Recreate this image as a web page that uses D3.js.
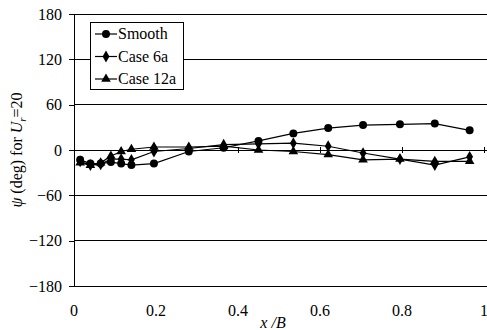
<!DOCTYPE html>
<html>
<head>
<meta charset="utf-8">
<script src="https://cdn.jsdelivr.net/npm/d3@7"></script>
<style>
  body { margin: 0; background: #fff; }
  svg { display: block; }
</style>
</head>
<body>
<div id="chart"></div>
<script>
// x/B positions of the measurement stations
const xPos = [0.015, 0.04, 0.065, 0.09, 0.115, 0.14, 0.195, 0.28, 0.365, 0.45, 0.535, 0.62, 0.705, 0.795, 0.88, 0.965];
const smooth = [-13, -18, -18, -16, -18, -20, -18, -2, 3, 12, 22, 29, 33, 34, 35, 26];
const case6a = [-15, -20, -19, -12, -12, -13, -2, 2, 7, 8, 9, 5, -4, -12, -20, -9];
const case12a = [-17, -20, -17, -8, -2, 1, 4, 4, 5, 0, -2, -6, -13, -12, -15, -15];
const yTicks = [-180, -120, -60, 0, 60, 120, 180];
const xTicks = [0, 0.2, 0.4, 0.6, 0.8, 1];

const series = [
  { label: 'Smooth', values: smooth, symbol: d3.symbolCircle, size: 50 },
  { label: 'Case 6a', values: case6a, symbol: d3.symbolDiamond, size: 40 },
  { label: 'Case 12a', values: case12a, symbol: d3.symbolTriangle, size: 40 }
];

const width = 487, height = 330;
const fontSize = 16;
const serif = "'Liberation Serif', serif";
const svg = d3.select('#chart').append('svg')
  .attr('width', width).attr('height', height)
  .style('font-family', serif);

const x = d3.scaleLinear().domain([0, 1]).range([74, 484]);
const y = d3.scaleLinear().domain([-180, 180]).range([286, 14]);

// horizontal gridlines
svg.append('g')
  .selectAll('line')
  .data(yTicks)
  .join('line')
  .attr('x1', x(0)).attr('x2', width + 5)
  .attr('y1', d => y(d)).attr('y2', d => y(d))
  .attr('stroke', '#000').attr('stroke-width', 1)
  .attr('shape-rendering', 'crispEdges');

// y axis
const yAxis = svg.append('g')
  .attr('transform', `translate(${x(0)},0)`)
  .call(d3.axisLeft(y).tickValues(yTicks).tickSize(5).tickPadding(7));
yAxis.attr('font-family', null).attr('font-size', null);
yAxis.selectAll('path, line').attr('stroke', '#000').attr('shape-rendering', 'crispEdges');
yAxis.selectAll('text')
  .style('font-family', serif)
  .attr('font-size', fontSize).attr('fill', '#000');

// x axis line sits on y=0, labels at the bottom
svg.append('g')
  .selectAll('line')
  .data(xTicks.slice(1))
  .join('line')
  .attr('x1', d => x(d)).attr('x2', d => x(d))
  .attr('y1', y(0) - 3).attr('y2', y(0) + 3)
  .attr('stroke', '#000')
  .attr('shape-rendering', 'crispEdges');

svg.append('g')
  .selectAll('text')
  .data(xTicks)
  .join('text')
  .attr('x', d => x(d))
  .attr('y', 316)
  .attr('text-anchor', 'middle')
  .style('font-family', serif)
  .attr('font-size', fontSize)
  .text(d => d3.format('~g')(d));

// axis titles
svg.append('text')
  .attr('x', 273).attr('y', 328)
  .attr('text-anchor', 'middle')
  .style('font-family', serif)
  .attr('font-size', fontSize)
  .attr('font-style', 'italic')
  .text('x /B');

const yTitle = svg.append('text')
  .attr('transform', `translate(22,${y(0)}) rotate(-90)`)
  .attr('text-anchor', 'middle')
  .style('font-family', serif)
  .attr('font-size', fontSize);
yTitle.append('tspan').attr('font-style', 'italic').text('ψ');
yTitle.append('tspan').text(' (deg) for ');
yTitle.append('tspan').attr('font-style', 'italic').text('U');
yTitle.append('tspan').attr('font-style', 'italic').attr('font-size', 11).attr('dy', 4).text('r');
yTitle.append('tspan').attr('dy', -4).text('=20');

// series lines and markers
const line = d3.line()
  .x((d, i) => x(xPos[i]))
  .y(d => y(d));

series.forEach(s => {
  svg.append('path')
    .datum(s.values)
    .attr('fill', 'none')
    .attr('stroke', '#000')
    .attr('stroke-width', 1.2)
    .attr('d', line);

  svg.append('g')
    .selectAll('path')
    .data(s.values)
    .join('path')
    .attr('transform', (d, i) => `translate(${x(xPos[i])},${y(d)})`)
    .attr('d', d3.symbol().type(s.symbol).size(s.size))
    .attr('fill', '#000');
});

// legend
const legend = svg.append('g').attr('transform', 'translate(90,22)');
legend.append('rect')
  .attr('width', 93).attr('height', 67)
  .attr('fill', '#fff').attr('stroke', '#000')
  .attr('shape-rendering', 'crispEdges');

series.forEach((s, i) => {
  const gy = 12 + i * 22.5;
  legend.append('line')
    .attr('x1', 5).attr('x2', 27)
    .attr('y1', gy).attr('y2', gy)
    .attr('stroke', '#000').attr('stroke-width', 1.2);
  legend.append('path')
    .attr('transform', `translate(16,${gy})`)
    .attr('d', d3.symbol().type(s.symbol).size(s.size))
    .attr('fill', '#000');
  legend.append('text')
    .attr('x', 28).attr('y', gy + 5)
    .style('font-family', serif)
    .attr('font-size', fontSize)
    .text(s.label);
});
</script>
</body>
</html>
